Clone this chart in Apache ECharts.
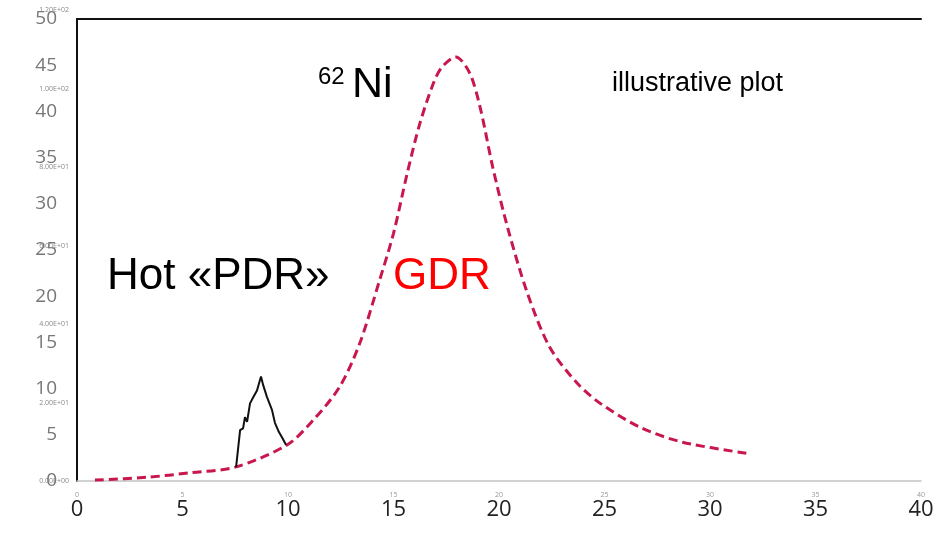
<!DOCTYPE html>
<html>
<head>
<meta charset="utf-8">
<script src="https://cdn.jsdelivr.net/npm/echarts@6/dist/echarts.min.js"></script>
<style>
	html, body { margin: 0; padding: 0; background: #fff; }
	#chart { width: 944px; height: 533px; }
</style>
</head>
<body>
<div id="chart"></div>
<script>
// GDR (red dashed)
var gdrEnergy = [0.85, 3.3, 5.4, 7.5, 9.95, 11.2, 12.45, 13.4, 14.35, 15.0, 15.65, 16.25, 16.9, 17.3, 17.95, 18.6, 19.1, 19.7, 20.4, 21.35, 22.4, 23.7, 24.8, 26.7, 28.7, 31.75];
var gdrStrength = [0.1, 0.4, 0.9, 1.5, 3.9, 6.6, 10.2, 14.9, 21.8, 26.8, 33.3, 38.7, 43.1, 44.8, 45.9, 44.2, 40.5, 34.0, 27.5, 20.3, 14.5, 10.6, 8.4, 5.8, 4.2, 3.0];

// hot "PDR" (black)
var pdrEnergy = [7.54, 7.73, 7.87, 7.96, 8.06, 8.2, 8.34, 8.53, 8.72, 8.82, 9.0, 9.24, 9.38, 9.57, 9.72, 9.91];
var pdrStrength = [1.5, 5.5, 5.7, 6.9, 6.4, 8.4, 9.0, 9.8, 11.3, 10.4, 9.1, 7.7, 6.3, 5.3, 4.7, 3.9];

// axis ranges
var xRange = [0, 40, 5];
var yRange = [0, 50, 5];
var y2Range = [0, 120, 20];

function zip(a, b) {
	var out = [];
	for (var i = 0; i < a.length; i++) out.push([a[i], b[i]]);
	return out;
}

// 1.20E+02 style labels
function sci(v) {
	if (v === 0) return '0.00E+00';
	var e = Math.floor(Math.log10(v));
	var m = v / Math.pow(10, e);
	return m.toFixed(2) + 'E+' + (e < 10 ? '0' : '') + e;
}

var chart = echarts.init(document.getElementById('chart'), null, { renderer: 'canvas' });

var option = {
	animation: false,
	grid: [
		{ left: 77, right: 23, top: 19, bottom: 52 },
		{ left: 77, right: 23, top: 10, bottom: 52 }
	],
	xAxis: [
		{
			gridIndex: 0, type: 'value', position: 'bottom',
			min: xRange[0], max: xRange[1], interval: xRange[2],
			axisLine: { show: true, lineStyle: { color: '#c4c4c4', width: 1.5 } },
			axisTick: { show: false }, splitLine: { show: false },
			axisLabel: { fontSize: 22, color: '#222', margin: 18, fontFamily: 'Open Sans' }
		},
		{
			gridIndex: 0, type: 'value', position: 'bottom',
			min: xRange[0], max: xRange[1], interval: xRange[2],
			axisLine: { show: false }, axisTick: { show: false }, splitLine: { show: false },
			axisLabel: { fontSize: 7, color: '#999', margin: 10, fontFamily: 'Open Sans' }
		},
		{
			gridIndex: 0, type: 'value', position: 'top',
			min: xRange[0], max: xRange[1],
			axisLine: { show: true, lineStyle: { color: '#111', width: 2 } },
			axisTick: { show: false }, axisLabel: { show: false }, splitLine: { show: false }
		},
		{ gridIndex: 1, type: 'value', show: false, min: xRange[0], max: xRange[1] }
	],
	yAxis: [
		{
			gridIndex: 0, type: 'value', position: 'left',
			min: yRange[0], max: yRange[1], interval: yRange[2],
			axisLine: { show: true, lineStyle: { color: '#c4c4c4', width: 1.5 } },
			axisTick: { show: false }, splitLine: { show: false },
			axisLabel: { fontSize: 19, color: '#777', margin: 20, fontFamily: 'Open Sans' }
		},
		{
			gridIndex: 0, type: 'value', position: 'right',
			min: yRange[0], max: yRange[1],
			axisLine: { show: true, lineStyle: { color: '#111', width: 2 } },
			axisTick: { show: false }, axisLabel: { show: false }, splitLine: { show: false }
		},
		{
			gridIndex: 1, type: 'value', position: 'left',
			min: y2Range[0], max: y2Range[1], interval: y2Range[2],
			axisLine: { show: false }, axisTick: { show: false }, splitLine: { show: false },
			axisLabel: { fontSize: 7, color: '#888', margin: 8, fontFamily: 'Open Sans', formatter: sci }
		}
	],
	series: [
		{
			name: 'GDR', type: 'line', xAxisIndex: 0, yAxisIndex: 0,
			data: zip(gdrEnergy, gdrStrength),
			smooth: 0.3, showSymbol: false, symbol: 'none',
			lineStyle: { color: '#c8174d', width: 3, type: [9, 5] }
		},
		{
			name: 'PDR', type: 'line', xAxisIndex: 0, yAxisIndex: 0,
			data: zip(pdrEnergy, pdrStrength),
			showSymbol: false, symbol: 'none',
			lineStyle: { color: '#111', width: 2 }
		}
	],
	graphic: [
		{ type: 'text', left: 318, top: 65, style: { text: '62', font: '24px "Liberation Sans"', fill: '#000' } },
		{ type: 'text', left: 352, top: 64, style: { text: 'Ni', font: '43px "Liberation Sans"', fill: '#000' } },
		{ type: 'text', left: 612, top: 70, style: { text: 'illustrative plot', font: '27px "Liberation Sans"', fill: '#000' } },
		{ type: 'text', left: 107, top: 255, style: { text: 'Hot «PDR»', font: '44px "Liberation Sans"', fill: '#000' } },
		{ type: 'text', left: 393, top: 255, style: { text: 'GDR', font: '44px "Liberation Sans"', fill: '#ff0000' } }
	]
};

chart.setOption(option);
</script>
</body>
</html>
